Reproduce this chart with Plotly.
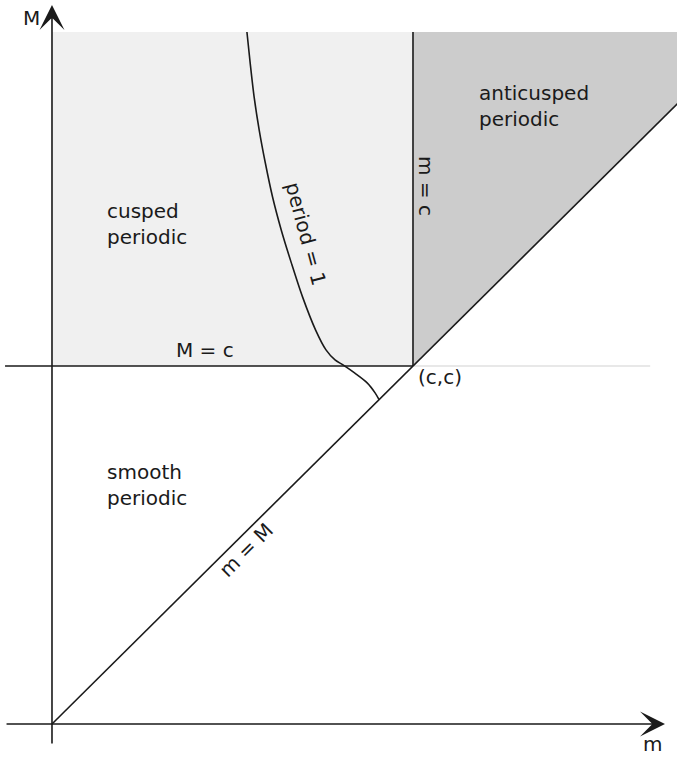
import plotly.graph_objects as go

# ---- data (c normalised to 1) ----
c = 1.0
shade_top = 1.933          # top of the shaded regions
axis_left = -0.130         # left end of the horizontal axis / M=c line
m_axis_end = 1.698         # tip of the m-axis arrow
M_axis_end = 2.008         # tip of the M-axis arrow
M_axis_bottom = -0.059
gray_line_end = 1.657      # faint continuation of the M=c line
diag_end = 1.80

# period = 1 curve
period_m = [0.540, 0.549, 0.560, 0.574, 0.591, 0.611, 0.635, 0.663, 0.694, 0.730,
            0.759, 0.784, 0.806, 0.839, 0.873, 0.895, 0.906]
period_M = [1.933, 1.846, 1.751, 1.659, 1.567, 1.472, 1.380, 1.288, 1.193, 1.101,
            1.045, 1.017, 1.003, 0.980, 0.953, 0.925, 0.906]

INK = "#1a1a1a"
FONT = "DejaVu Sans"

def px(xp, yp):
    # pixel position in the 677x761 picture -> data units
    return (xp - 52) / 361.0, (724 - yp) / 358.0

fig = go.Figure()

# cusped periodic region (light gray)
fig.add_trace(go.Scatter(x=[0, c, c, 0], y=[c, c, shade_top, shade_top], fill="toself",
                         fillcolor="#f0f0f0", line=dict(width=0), mode="lines", hoverinfo="skip"))
# anticusped periodic region (darker gray)
fig.add_trace(go.Scatter(x=[c, shade_top, c], y=[c, shade_top, shade_top], fill="toself",
                         fillcolor="#cccccc", line=dict(width=0), mode="lines", hoverinfo="skip"))

# faint continuation of M = c
fig.add_trace(go.Scatter(x=[c, gray_line_end], y=[c, c], mode="lines",
                         line=dict(color="#e0e0e0", width=1.5), hoverinfo="skip"))
# M = c line
fig.add_trace(go.Scatter(x=[axis_left, c], y=[c, c], mode="lines",
                         line=dict(color=INK, width=1.6), hoverinfo="skip"))
# m = c line
fig.add_trace(go.Scatter(x=[c, c], y=[c, shade_top], mode="lines",
                         line=dict(color=INK, width=1.6), hoverinfo="skip"))
# m = M diagonal
fig.add_trace(go.Scatter(x=[0, diag_end], y=[0, diag_end], mode="lines",
                         line=dict(color=INK, width=1.6), hoverinfo="skip"))
# period = 1 curve
fig.add_trace(go.Scatter(x=period_m, y=period_M, mode="lines",
                         line=dict(color=INK, width=1.6, shape="spline", smoothing=0.8), hoverinfo="skip"))

annotations = []
# axes with arrows
annotations.append(dict(x=0, y=M_axis_end, ax=0, ay=M_axis_bottom, xref="x", yref="y",
                        axref="x", ayref="y", text="", showarrow=True, arrowhead=3,
                        arrowsize=2.6, arrowwidth=1.6, arrowcolor=INK))
annotations.append(dict(x=m_axis_end, y=0, ax=axis_left, ay=0, xref="x", yref="y",
                        axref="x", ayref="y", text="", showarrow=True, arrowhead=3,
                        arrowsize=2.6, arrowwidth=1.6, arrowcolor=INK))

def label(text, xp, yp, angle=0, xanchor="center", yanchor="middle"):
    x, y = px(xp, yp)
    annotations.append(dict(x=x, y=y, xref="x", yref="y", text=text, showarrow=False,
                            textangle=angle, xanchor=xanchor, yanchor=yanchor, align="left",
                            font=dict(family=FONT, size=20, color=INK)))

label("M", 32, 18)
label("m", 652, 744)
label("cusped<br>periodic", 105, 224, xanchor="left")
label("anticusped<br>periodic", 477, 106, xanchor="left")
label("smooth<br>periodic", 105, 485, xanchor="left")
label("M = c", 205, 350)
label("m = c", 426, 186, angle=90)
label("period = 1", 306, 234, angle=75)
label("m = M", 246, 550, angle=-45)
label("(c,c)", 416, 377, xanchor="left")

fig.update_layout(
    width=677, height=761, autosize=False,
    margin=dict(l=0, r=0, t=0, b=0),
    plot_bgcolor="white", paper_bgcolor="white",
    showlegend=False,
    annotations=annotations,
    xaxis=dict(range=[-0.1440, 1.7313], visible=False, fixedrange=True),
    yaxis=dict(range=[-0.1034, 2.0223], visible=False, fixedrange=True),
)

fig.write_html("out.html", config={"displayModeBar": False},
               post_script="document.body.style.margin='0';")
